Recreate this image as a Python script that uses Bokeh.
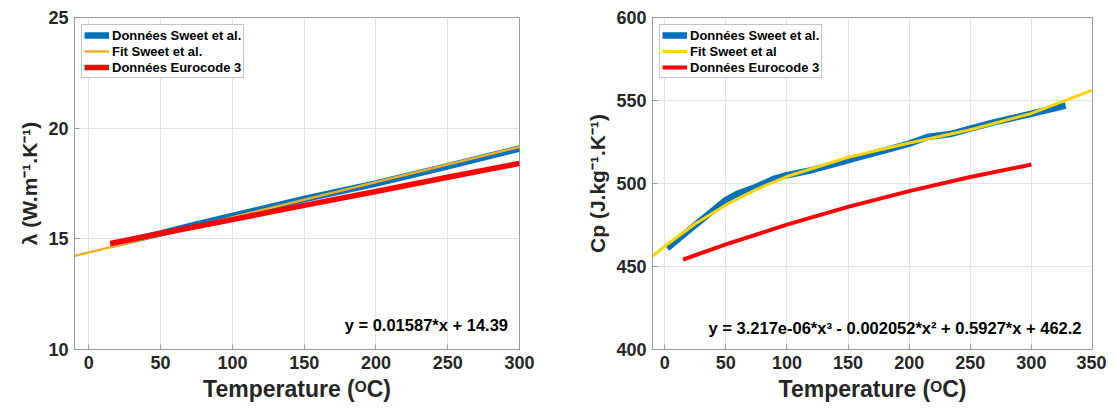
from bokeh.plotting import figure
from bokeh.layouts import row
from bokeh.models import Label, FixedTicker, Range1d
from bokeh.embed import file_html
from bokeh.resources import INLINE

# ---------------- Data ----------------
# Left panel: thermal conductivity lambda (W/m/K)
lam_sweet_T = [15, 50, 75, 100, 150, 200, 250, 300]
lam_sweet = [14.72, 15.25, 15.65, 16.03, 16.80, 17.50, 18.28, 19.08]
lam_fit_T = [-10, 300]
lam_fit = [14.23, 19.15]
lam_ec3_T = [15, 50, 100, 150, 200, 250, 300]
lam_ec3 = [14.79, 15.24, 15.87, 16.51, 17.14, 17.78, 18.41]
lam_fit_text = "y = 0.01587*x + 14.39"

# Right panel: specific heat Cp (J/kg/K)
cp_sweet_T = [2, 20, 35, 50, 60, 75, 90, 100, 120, 140, 160, 180, 200, 215,
              235, 250, 270, 300, 328]
cp_sweet = [461, 472, 481, 490, 494, 498, 503, 505, 508, 512, 516, 520, 524,
            528, 530, 533, 537, 542, 547]
cp_fit_T = [-10, 0, 25, 50, 75, 100, 150, 200, 250, 300, 350]
cp_fit = [456.1, 462.2, 475.8, 487.1, 496.5, 504.2, 515.8, 524.4, 532.4, 542.2, 556.2]
cp_ec3_T = [15, 50, 100, 150, 200, 250, 300]
cp_ec3 = [454.2, 463.3, 475.2, 485.9, 495.4, 503.9, 511.4]
cp_fit_text = "y = 3.217e-06*x³ - 0.002052*x² + 0.5927*x + 462.2"

left_xticks = [0, 50, 100, 150, 200, 250, 300]
left_yticks = [10, 15, 20, 25]
right_xticks = [0, 50, 100, 150, 200, 250, 300, 350]
right_yticks = [400, 450, 500, 550, 600]

FONT = "Liberation Sans"
AX = "#9a9a9a"
TXT = "#262626"
BLUE = "#0072BD"
ORANGE = "#EDB120"
YELLOW = "#FFD400"
RED = "#FF0000"


def style(p, xticks, yticks, xlabel, ylabel):
    p.xaxis.ticker = FixedTicker(ticks=xticks)
    p.yaxis.ticker = FixedTicker(ticks=yticks)
    p.xgrid.ticker = FixedTicker(ticks=xticks)
    p.ygrid.ticker = FixedTicker(ticks=yticks)
    p.grid.grid_line_color = "#e3e3e3"
    p.grid.grid_line_width = 1
    p.xaxis.axis_label = xlabel
    p.yaxis.axis_label = ylabel
    for ax in [p.xaxis[0], p.yaxis[0]]:
        ax.axis_line_color = AX
        ax.major_tick_line_color = AX
        ax.major_tick_in = 5
        ax.major_tick_out = 0
        ax.minor_tick_line_color = None
        ax.major_label_text_font = FONT
        ax.major_label_text_font_style = "bold"
        ax.major_label_text_font_size = "18px"
        ax.major_label_text_color = TXT
        ax.axis_label_text_font = FONT
        ax.axis_label_text_font_style = "bold"
        ax.axis_label_text_color = TXT
        ax.major_label_standoff = 6
        ax.axis_label_standoff = 4
    p.xaxis.axis_label_text_font_size = "23px"
    p.yaxis.axis_label_text_font_size = "21px"
    p.outline_line_color = AX
    p.outline_line_width = 1
    p.legend.location = "top_left"
    p.legend.margin = 7
    p.legend.padding = 2
    p.legend.spacing = 0
    p.legend.label_height = 16
    p.legend.glyph_height = 16
    p.legend.glyph_width = 25
    p.legend.label_standoff = 3
    p.legend.label_text_font = FONT
    p.legend.label_text_font_style = "bold"
    p.legend.label_text_font_size = "13px"
    p.legend.label_text_color = "#000000"
    p.legend.border_line_color = "#8c8c8c"
    p.legend.border_line_width = 1
    p.legend.background_fill_alpha = 1


# ---------------- Left figure ----------------
p1 = figure(width=560, height=410, output_backend="svg", toolbar_location=None,
            x_range=Range1d(-10, 300), y_range=Range1d(10, 25),
            min_border_left=74, min_border_right=41, min_border_top=17,
            min_border_bottom=61)
p1.line(lam_sweet_T, lam_sweet, line_color=BLUE, line_width=6.5,
        legend_label="Données Sweet et al.")
p1.line(lam_fit_T, lam_fit, line_color=ORANGE, line_width=2.5,
        legend_label="Fit Sweet et al.")
p1.line(lam_ec3_T, lam_ec3, line_color=RED, line_width=5.5,
        legend_label="Données Eurocode 3")
style(p1, left_xticks, left_yticks, "Temperature (ᴼC)", "λ (W.m⁻¹.K⁻¹)")
p1.add_layout(Label(x=292, y=11.1, text=lam_fit_text, text_align="right",
                    text_baseline="middle", text_font=FONT,
                    text_font_style="bold", text_font_size="16.5px",
                    text_color="#000000"))

# ---------------- Right figure ----------------
p2 = figure(width=546, height=410, output_backend="svg", toolbar_location=None,
            x_range=Range1d(-10, 350), y_range=Range1d(400, 600),
            min_border_left=92, min_border_right=14, min_border_top=17,
            min_border_bottom=61)
p2.line(cp_sweet_T, cp_sweet, line_color=BLUE, line_width=6.5,
        legend_label="Données Sweet et al.")
p2.line(cp_fit_T, cp_fit, line_color=YELLOW, line_width=3,
        legend_label="Fit Sweet et al")
p2.line(cp_ec3_T, cp_ec3, line_color=RED, line_width=4,
        legend_label="Données Eurocode 3")
style(p2, right_xticks, right_yticks, "Temperature (ᴼC)", "Cp (J.kg⁻¹.K⁻¹)")
p2.add_layout(Label(x=341, y=412.8, text=cp_fit_text, text_align="right",
                    text_baseline="middle", text_font=FONT,
                    text_font_style="bold", text_font_size="16.5px",
                    text_color="#000000"))

layout = row(p1, p2)
open("out.html", "w").write(file_html(layout, INLINE))
